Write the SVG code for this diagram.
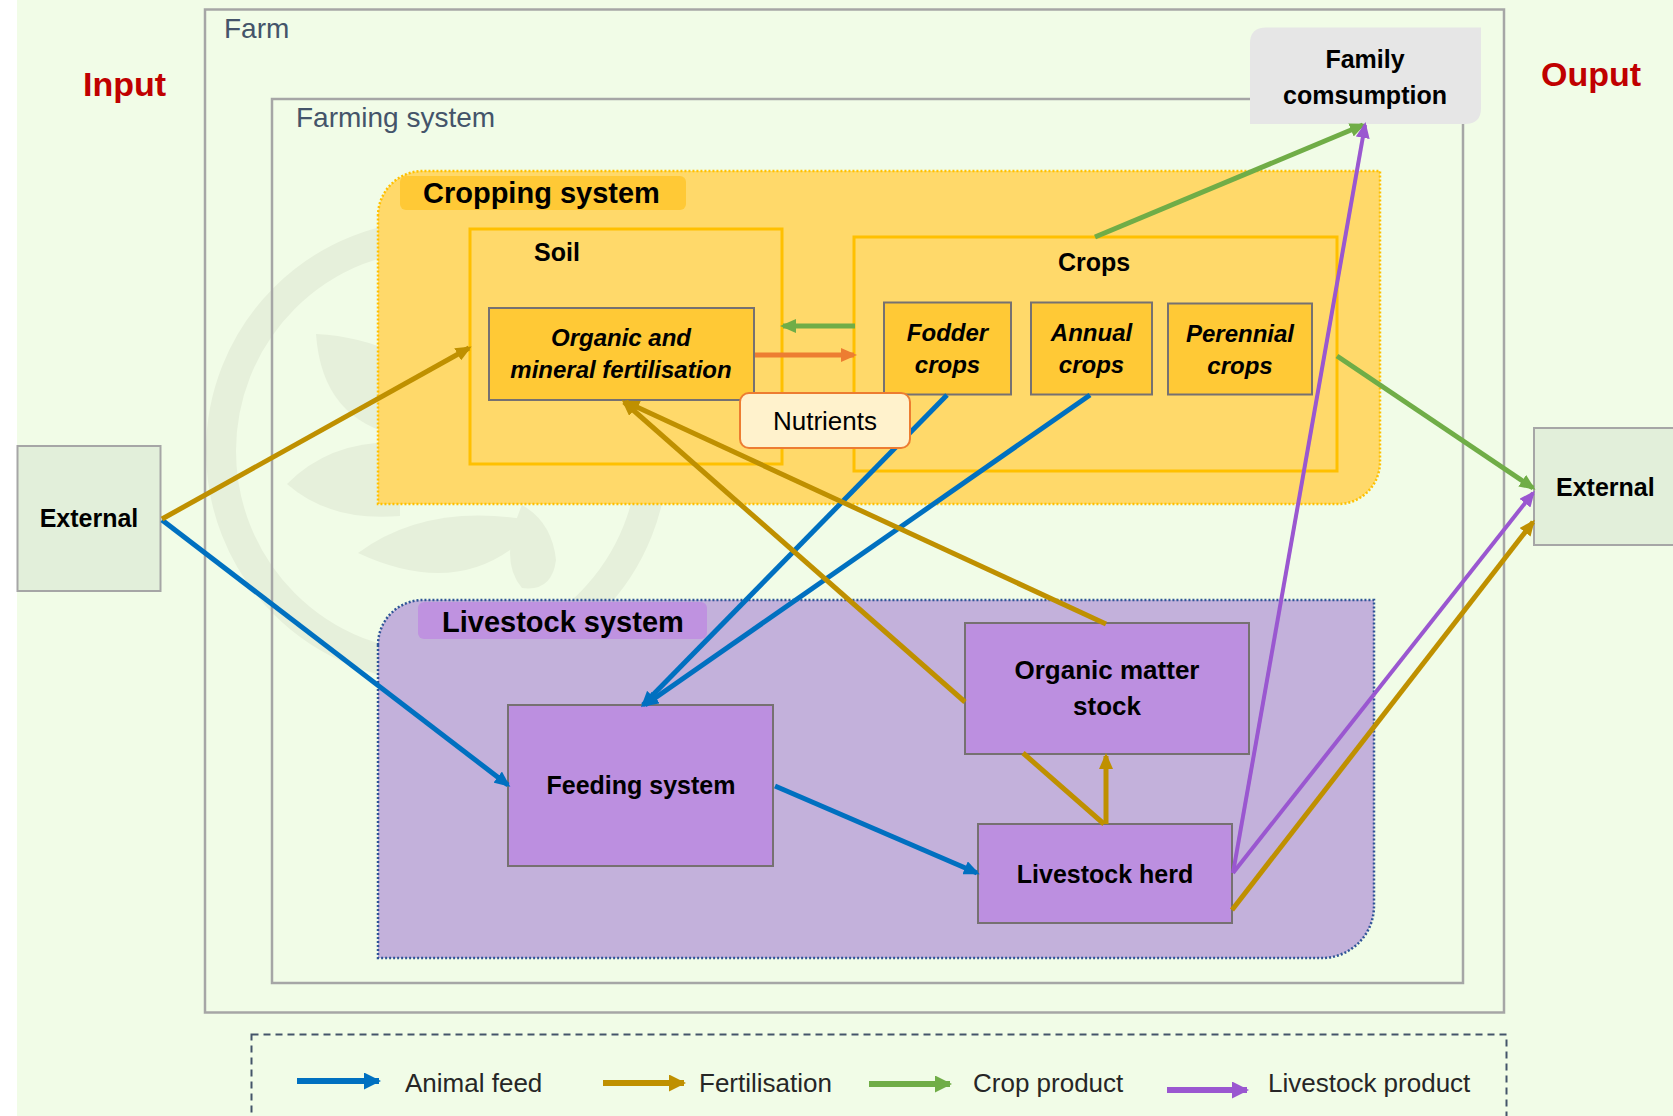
<svg xmlns="http://www.w3.org/2000/svg" width="1673" height="1116" viewBox="0 0 1673 1116">
<style>
.t{font-family:"Liberation Sans",Arial,sans-serif;fill:#000}
.b{font-weight:bold}
.bi{font-weight:bold;font-style:italic}
.gray{fill:none;stroke:#A6A6A6;stroke-width:2.5}
.box{stroke:#767171;stroke-width:2}
.ybox{fill:none;stroke:#FFC000;stroke-width:3}
.c{fill:none;stroke-linecap:butt}
.blue{stroke:#0070C0;stroke-width:5}
.gold{stroke:#BF9000;stroke-width:5}
.green{stroke:#70AD47;stroke-width:5}
.orange{stroke:#ED7D31;stroke-width:5}
.purple{stroke:#9A57D0;stroke-width:4}
.wm{fill:#E6F0DB}
</style>
<defs>
<marker id="aBlue" viewBox="0 0 16 14" refX="13" refY="7" markerWidth="16" markerHeight="14" markerUnits="userSpaceOnUse" orient="auto"><path d="M0,0 L16,7 L0,14 z" fill="#0070C0"/></marker>
<marker id="aGold" viewBox="0 0 16 14" refX="13" refY="7" markerWidth="16" markerHeight="14" markerUnits="userSpaceOnUse" orient="auto"><path d="M0,0 L16,7 L0,14 z" fill="#BF9000"/></marker>
<marker id="aGreen" viewBox="0 0 16 14" refX="13" refY="7" markerWidth="16" markerHeight="14" markerUnits="userSpaceOnUse" orient="auto"><path d="M0,0 L16,7 L0,14 z" fill="#70AD47"/></marker>
<marker id="aOrange" viewBox="0 0 16 14" refX="13" refY="7" markerWidth="16" markerHeight="14" markerUnits="userSpaceOnUse" orient="auto"><path d="M0,0 L16,7 L0,14 z" fill="#ED7D31"/></marker>
<marker id="aPurple" viewBox="0 0 16 14" refX="13" refY="7" markerWidth="16" markerHeight="14" markerUnits="userSpaceOnUse" orient="auto"><path d="M0,0 L16,7 L0,14 z" fill="#9A57D0"/></marker>
<marker id="lBlue" viewBox="0 0 17 17" refX="15" refY="8.5" markerWidth="17" markerHeight="17" markerUnits="userSpaceOnUse" orient="auto"><path d="M0,0 L17,8.5 L0,17 z" fill="#0070C0"/></marker>
<marker id="lGold" viewBox="0 0 17 17" refX="15" refY="8.5" markerWidth="17" markerHeight="17" markerUnits="userSpaceOnUse" orient="auto"><path d="M0,0 L17,8.5 L0,17 z" fill="#BF9000"/></marker>
<marker id="lGreen" viewBox="0 0 17 17" refX="15" refY="8.5" markerWidth="17" markerHeight="17" markerUnits="userSpaceOnUse" orient="auto"><path d="M0,0 L17,8.5 L0,17 z" fill="#70AD47"/></marker>
<marker id="lPurple" viewBox="0 0 17 17" refX="15" refY="8.5" markerWidth="17" markerHeight="17" markerUnits="userSpaceOnUse" orient="auto"><path d="M0,0 L17,8.5 L0,17 z" fill="#9A57D0"/></marker>
</defs>

<rect x="0" y="0" width="1673" height="1116" fill="#FFFFFF"/>
<rect x="17" y="0" width="1656" height="1116" fill="#F1FCE7"/>

<g id="watermark">
<circle cx="437" cy="451" r="216" fill="none" stroke="#E6F0DB" stroke-width="30"/>
<path class="wm" d="M316,334 Q322,420 400,436 L400,355 Q360,336 316,334 Z"/>
<path class="wm" d="M287,484 Q330,440 400,442 L400,516 Q330,522 287,484 Z"/>
<path class="wm" d="M358,553 Q430,500 540,522 Q470,605 358,553 Z"/>
<path class="wm" d="M522,505 Q498,560 522,588 Q552,592 556,560 Q552,522 522,505 Z"/>
</g>

<g id="farm">
<rect class="gray" x="205" y="9.5" width="1299" height="1003" stroke-width="2"/>
<text class="t" x="224" y="38" font-size="28" style="fill:#44546A">Farm</text>
</g>
<g id="farming-system">
<rect class="gray" x="272" y="99" width="1191" height="884"/>
<text class="t" x="296" y="127" font-size="28" style="fill:#44546A">Farming system</text>
</g>
<g id="input-label"><text class="t b" x="83" y="96" font-size="34" style="fill:#C00000">Input</text></g>
<g id="output-label"><text class="t b" x="1541" y="86" font-size="34" style="fill:#C00000">Ouput</text></g>

<g id="family-consumption">
<path d="M1266,27.5 L1481,27.5 L1481,108 Q1481,124 1465,124 L1250,124 L1250,43.5 Q1250,27.5 1266,27.5 Z" fill="#E6E6E6"/>
<text class="t b" x="1365" y="68" font-size="25" text-anchor="middle">Family</text>
<text class="t b" x="1365" y="104" font-size="25" text-anchor="middle">comsumption</text>
</g>

<g id="cropping-system">
<path d="M378,216 A45,45 0 0 1 423,171 L1380,171 L1380,462 A42,42 0 0 1 1338,504 L378,504 Z" fill="#FFD96A" stroke="#FFC000" stroke-width="2.5" stroke-dasharray="2,2"/>
<rect x="400" y="176" width="286" height="34" rx="6" fill="#FFC936"/>
<text class="t b" x="423" y="203" font-size="29">Cropping system</text>
</g>

<g id="soil">
<rect class="ybox" x="470" y="229" width="312" height="235"/>
<text class="t b" x="534" y="261" font-size="25">Soil</text>
</g>
<g id="fertilisation">
<rect class="box" x="489" y="308" width="265" height="92" fill="#FFC936"/>
<text class="t bi" x="621" y="346" font-size="24" text-anchor="middle">Organic and</text>
<text class="t bi" x="621" y="378" font-size="24" text-anchor="middle">mineral fertilisation</text>
</g>

<g id="crops">
<rect class="ybox" x="854" y="237" width="483" height="234"/>
<text class="t b" x="1094" y="271" font-size="25" text-anchor="middle">Crops</text>
</g>
<g id="fodder-crops">
<rect class="box" x="884" y="302.5" width="127" height="92" fill="#FFC936"/>
<text class="t bi" x="947.5" y="341" font-size="24" text-anchor="middle">Fodder</text>
<text class="t bi" x="947.5" y="373" font-size="24" text-anchor="middle">crops</text>
</g>
<g id="annual-crops">
<rect class="box" x="1031" y="302.5" width="121" height="92" fill="#FFC936"/>
<text class="t bi" x="1091.5" y="341" font-size="24" text-anchor="middle">Annual</text>
<text class="t bi" x="1091.5" y="373" font-size="24" text-anchor="middle">crops</text>
</g>
<g id="perennial-crops">
<rect class="box" x="1168" y="303.5" width="144" height="91" fill="#FFC936"/>
<text class="t bi" x="1240" y="342" font-size="24" text-anchor="middle">Perennial</text>
<text class="t bi" x="1240" y="374" font-size="24" text-anchor="middle">crops</text>
</g>

<g id="livestock-system">
<path d="M378,645 A45,45 0 0 1 423,600 L1374,600 L1374,906 A52,52 0 0 1 1322,958 L378,958 Z" fill="#C3B1DB" stroke="#2F5597" stroke-width="2.5" stroke-dasharray="2,2"/>
<rect x="418" y="602" width="289" height="37" rx="6" fill="#BF92E0"/>
<text class="t b" x="442" y="632" font-size="29">Livestock system</text>
</g>
<g id="feeding-system">
<rect class="box" x="508" y="705" width="265" height="161" fill="#BC8FE0"/>
<text class="t b" x="641" y="794" font-size="25" text-anchor="middle">Feeding system</text>
</g>
<g id="organic-matter-stock">
<rect class="box" x="965" y="623" width="284" height="131" fill="#BC8FE0"/>
<text class="t b" x="1107" y="679" font-size="26" text-anchor="middle">Organic matter</text>
<text class="t b" x="1107" y="715" font-size="26" text-anchor="middle">stock</text>
</g>
<g id="livestock-herd">
<rect class="box" x="978" y="824" width="254" height="99" fill="#BC8FE0"/>
<text class="t b" x="1105" y="883" font-size="25" text-anchor="middle">Livestock herd</text>
</g>

<g id="external-in">
<rect x="17.5" y="446" width="143" height="145" fill="#E2EFDA" stroke="#A6A6A6" stroke-width="2"/>
<text class="t b" x="89" y="527" font-size="25" text-anchor="middle">External</text>
</g>
<g id="external-out">
<rect x="1534" y="428" width="160" height="117" fill="#E2EFDA" stroke="#A6A6A6" stroke-width="2"/>
<text class="t b" x="1556" y="496" font-size="25">External</text>
</g>

<g id="connectors">
<line class="c blue" x1="162" y1="520" x2="508" y2="785" marker-end="url(#aBlue)"/>
<line class="c blue" x1="947" y1="395" x2="643" y2="705" marker-end="url(#aBlue)"/>
<line class="c blue" x1="1090" y1="395" x2="645" y2="705" marker-end="url(#aBlue)"/>
<line class="c blue" x1="775" y1="786" x2="977" y2="873" marker-end="url(#aBlue)"/>
<line class="c gold" x1="162" y1="519" x2="469" y2="348" marker-end="url(#aGold)"/>
<line class="c gold" x1="1104" y1="824" x2="1023" y2="753"/>
<line class="c gold" x1="965" y1="702" x2="624" y2="402" marker-end="url(#aGold)"/>
<line class="c gold" x1="1106" y1="624" x2="626" y2="402" marker-end="url(#aGold)"/>
<line class="c gold" x1="1106" y1="824" x2="1106" y2="756" marker-end="url(#aGold)"/>
<line class="c gold" x1="1232" y1="910" x2="1533" y2="522" marker-end="url(#aGold)"/>
<line class="c green" x1="1095" y1="237" x2="1363" y2="125" marker-end="url(#aGreen)"/>
<line class="c green" x1="1337" y1="356" x2="1533" y2="488" marker-end="url(#aGreen)"/>
<line class="c green" x1="855" y1="326" x2="783" y2="326" marker-end="url(#aGreen)"/>
<line class="c orange" x1="755" y1="355" x2="854" y2="355" marker-end="url(#aOrange)"/>
<line class="c purple" x1="1233" y1="873" x2="1365" y2="125" marker-end="url(#aPurple)"/>
<line class="c purple" x1="1233" y1="873" x2="1533" y2="493" marker-end="url(#aPurple)"/>
</g>

<g id="nutrients">
<rect x="740" y="393" width="170" height="55" rx="9" fill="#FFF2CC" stroke="#ED7D31" stroke-width="2"/>
<text class="t" x="825" y="430" font-size="26" text-anchor="middle">Nutrients</text>
</g>

<g id="legend">
<rect x="251.5" y="1034.5" width="1255" height="110" fill="none" stroke="#44546A" stroke-width="2" stroke-dasharray="7,5"/>
<line class="c" x1="297" y1="1081" x2="379" y2="1081" stroke="#0070C0" stroke-width="6" marker-end="url(#lBlue)"/>
<text class="t" x="405" y="1092" font-size="26" style="fill:#262626">Animal feed</text>
<line class="c" x1="603" y1="1083" x2="684" y2="1083" stroke="#BF9000" stroke-width="6" marker-end="url(#lGold)"/>
<text class="t" x="699" y="1092" font-size="26" style="fill:#262626">Fertilisation</text>
<line class="c" x1="869" y1="1084" x2="950" y2="1084" stroke="#70AD47" stroke-width="6" marker-end="url(#lGreen)"/>
<text class="t" x="973" y="1092" font-size="26" style="fill:#262626">Crop product</text>
<line class="c" x1="1167" y1="1090" x2="1247" y2="1090" stroke="#9A57D0" stroke-width="6" marker-end="url(#lPurple)"/>
<text class="t" x="1268" y="1092" font-size="26" style="fill:#262626">Livestock product</text>
</g>
</svg>
